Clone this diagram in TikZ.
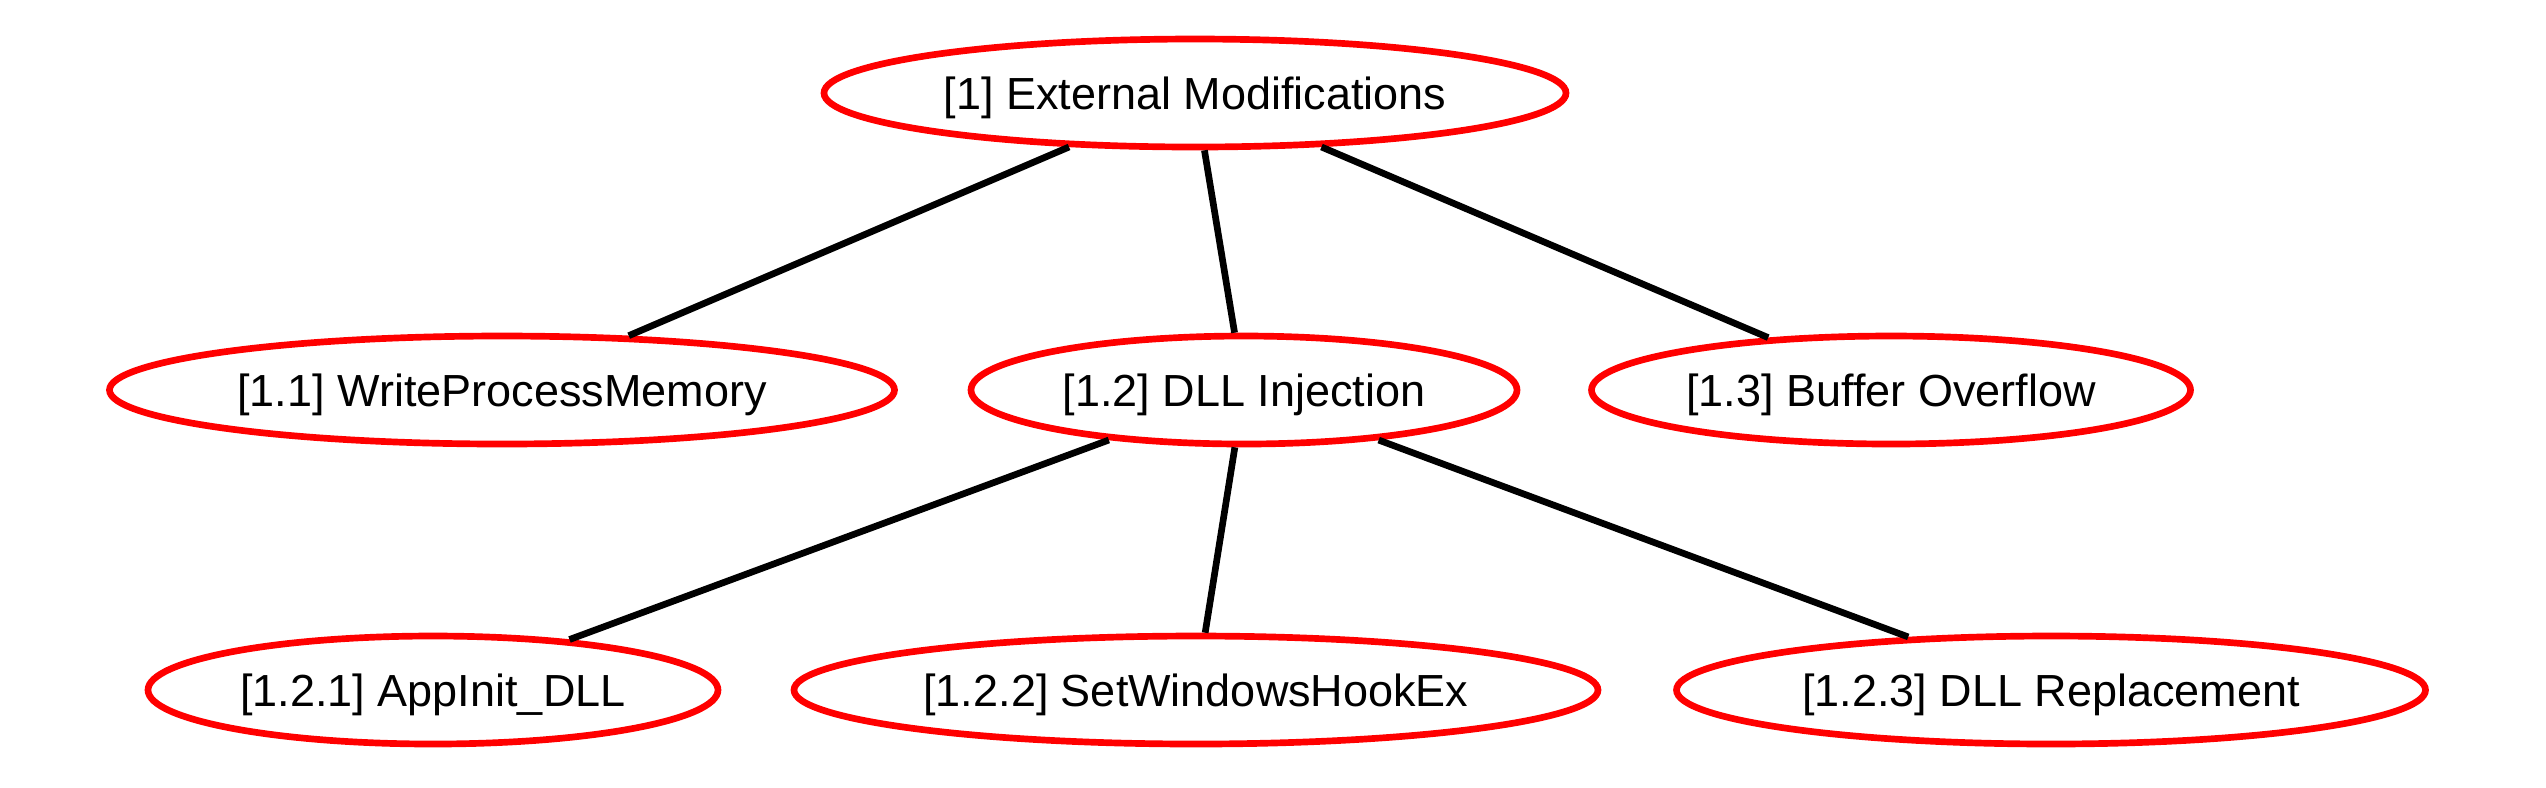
\documentclass[tikz,border=0pt]{standalone}
\usepackage{fontspec}
\setmainfont{Liberation Sans}
\usepackage{tikz}
\usetikzlibrary{positioning, shapes, calc}

\begin{document}
\begin{tikzpicture}[
    every node/.style={ellipse, draw=red, line width=1.9pt, inner sep=0pt,
        minimum height=1.08cm, text depth=0pt, font=\fontsize{12.8pt}{15pt}\selectfont},
    edge/.style={draw=black, line width=1.9pt}
]
    \useasboundingbox (0,0) rectangle (25.46,-7.87);
    % attack tree
    \node[minimum width=7.42cm] (ext) at (11.95,-0.93) {[1] External Modifications};
    \node[minimum width=7.85cm] (wpm) at (5.02,-3.90) {[1.1] WriteProcessMemory};
    \node[minimum width=5.46cm] (dll) at (12.44,-3.90) {[1.2] DLL Injection};
    \node[minimum width=5.99cm] (bof) at (18.91,-3.90) {[1.3] Buffer Overflow};
    \node[minimum width=5.70cm] (app) at (4.33,-6.90) {[1.2.1] AppInit\_DLL};
    \node[minimum width=8.04cm] (hook) at (11.96,-6.90) {[1.2.2] SetWindowsHookEx};
    \node[minimum width=7.49cm] (rep) at (20.51,-6.90) {[1.2.3] DLL Replacement};

    \draw[edge] (ext) -- (wpm);
    \draw[edge] (ext) -- (dll);
    \draw[edge] (ext) -- (bof);
    \draw[edge] (dll) -- (app);
    \draw[edge] (dll) -- (hook);
    \draw[edge] (dll) -- (rep);
\end{tikzpicture}
\end{document}
